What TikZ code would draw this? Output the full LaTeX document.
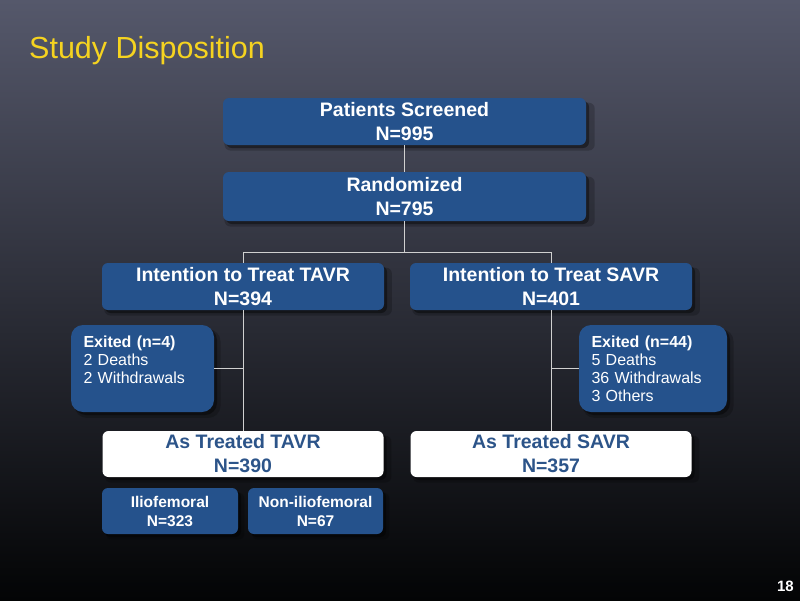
\documentclass[tikz,border=0pt]{standalone}
\usepackage{fontspec}
\setmainfont{Liberation Sans}
\usetikzlibrary{shadows}
\definecolor{boxblue}{HTML}{25528C}
\definecolor{boxtext}{HTML}{2C5489}
\definecolor{titleyellow}{HTML}{F5D320}
\definecolor{linegrey}{HTML}{D0D0D0}
\definecolor{bgtop}{HTML}{55586B}
\definecolor{bgmid}{HTML}{25272F}
\definecolor{bgbot}{HTML}{030405}
\tikzset{
  softshadow/.style={
    drop shadow={shadow xshift=5pt, shadow yshift=-5pt, shadow scale=1.02, opacity=0.2, fill=black},
    drop shadow={shadow xshift=3pt, shadow yshift=-3pt, opacity=0.4, fill=black}},
  boxbase/.style={rectangle, rounded corners=6pt, inner sep=0pt, align=center, softshadow},
  mainbox/.style={boxbase, fill=boxblue, text=white,
    font=\fontsize{19.5}{24}\selectfont\bfseries},
  whitebox/.style={boxbase, fill=white, text=boxtext,
    font=\fontsize{19.5}{24}\selectfont\bfseries},
  exitbox/.style={rectangle, rounded corners=12pt, fill=boxblue, text=white,
    align=left, inner xsep=12.5pt, inner ysep=0pt,
    font=\fontsize{16}{18}\selectfont, softshadow},
  subbox/.style={boxbase, fill=boxblue, text=white,
    font=\fontsize{15.5}{19}\selectfont\bfseries},
  conn/.style={draw=linegrey, line width=1pt}
}
\begin{document}
\begin{tikzpicture}[x=1pt,y=-1pt]
\useasboundingbox (0,0) rectangle (800,600);
\shade[top color=bgtop, middle color=bgmid, bottom color=bgbot] (0,0) rectangle (800,600);

\node[anchor=base west, text=titleyellow, font=\fontsize{30.5}{36}\selectfont, inner sep=0pt] (title) at (29,58) {Study Disposition};
\node[anchor=base east, text=white, font=\fontsize{15}{18}\selectfont\bfseries, inner sep=0pt] (page) at (794,591) {18};

\node[mainbox, minimum width=363pt, minimum height=47pt] (pat) at (404.5,121.5) {Patients Screened\\N=995};
\node[mainbox, minimum width=363pt, minimum height=49pt] (rand) at (404.5,196.5) {Randomized\\N=795};
\node[mainbox, minimum width=282pt, minimum height=47pt] (ittT) at (243,286.5) {Intention to Treat TAVR\\N=394};
\node[mainbox, minimum width=282pt, minimum height=47pt] (ittS) at (551,286.5) {Intention to Treat SAVR\\N=401};

\node[exitbox, text width=118pt, minimum height=87pt] (exT) at (142.5,368.5)
  {\textbf{Exited (n=4)}\\2 Deaths\\2 Withdrawals\\\mbox{}};
\node[exitbox, text width=123pt, minimum height=87pt] (exS) at (653,368.5)
  {\textbf{Exited (n=44)}\\5 Deaths\\36 Withdrawals\\3 Others};

\node[whitebox, minimum width=281pt, minimum height=46pt] (atT) at (243,454) {As Treated TAVR\\N=390};
\node[whitebox, minimum width=281pt, minimum height=46pt] (atS) at (551,454) {As Treated SAVR\\N=357};

\node[subbox, minimum width=136pt, minimum height=46pt] (ilio) at (170,511) {Iliofemoral\\N=323};
\node[subbox, minimum width=135pt, minimum height=46pt] (nonilio) at (315.5,511) {Non-iliofemoral\\N=67};

\coordinate (jM) at (404.5,252);
\coordinate (jL) at (243,252);
\coordinate (jR) at (551,252);

\draw[conn] (pat.south) -- (rand.north);
\draw[conn] (rand.south) -- (jM);
\draw[conn] (ittT.north) -- (jL) -- (jR) -- (ittS.north);
\draw[conn] (ittT.south) -- (atT.north);
\draw[conn] (ittS.south) -- (atS.north);
\draw[conn] (exT.east) -- (exT.east -| ittT.south);
\draw[conn] (exS.west) -- (exS.west -| ittS.south);
\end{tikzpicture}
\end{document}
